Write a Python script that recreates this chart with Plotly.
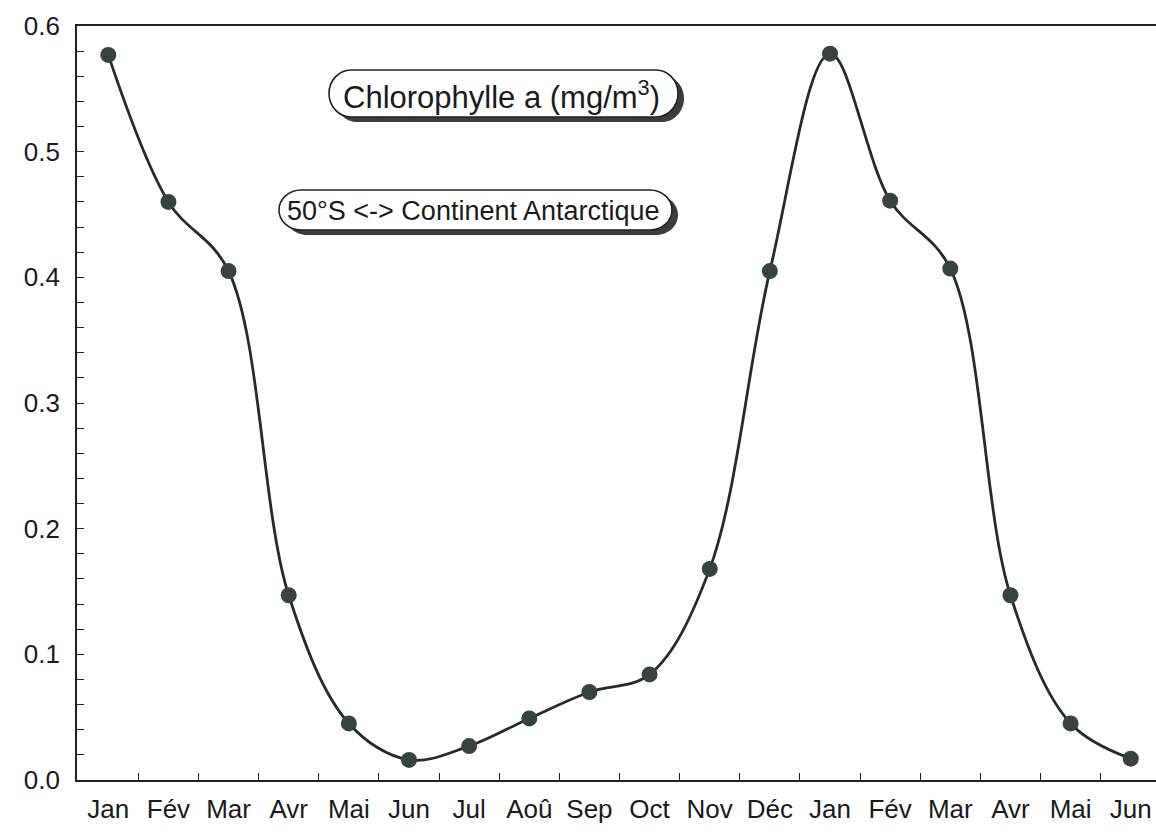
import plotly.graph_objects as go

# Monthly surface chlorophyll a, 50°S to the Antarctic continent (18 months)
months = ["Jan", "Fév", "Mar", "Avr", "Mai", "Jun", "Jul", "Aoû", "Sep",
          "Oct", "Nov", "Déc", "Jan", "Fév", "Mar", "Avr", "Mai", "Jun"]
chl = [0.577, 0.460, 0.405, 0.147, 0.045, 0.016, 0.027, 0.049, 0.070,
       0.084, 0.168, 0.405, 0.578, 0.461, 0.407, 0.147, 0.045, 0.017]
y_ticks = [0.0, 0.1, 0.2, 0.3, 0.4, 0.5, 0.6]
y_labels = ["0.0", "0.1", "0.2", "0.3", "0.4", "0.5", "0.6"]

W, H = 1156, 834
M_L, M_R, M_T, M_B = 77, 0, 26, 54
PW, PH = W - M_L - M_R, H - M_T - M_B

FONT = "Liberation Sans, Arial, Helvetica, sans-serif"
INK = "#1e2221"

x_idx = list(range(len(months)))

fig = go.Figure()
fig.add_trace(go.Scatter(
    x=x_idx, y=chl, mode="lines+markers",
    line=dict(color="#262a29", width=2.8, shape="spline", smoothing=1.0),
    marker=dict(size=16, color="#38433f"),
    hoverinfo="x+y", showlegend=False,
))


def px_x(p):
    return (p - M_L) / PW


def px_y(p):
    return (H - M_B - p) / PH


def pill_path(x0, y0, x1, y1, r):
    """Rounded box in paper units from pixel corners; ends bowed like brackets."""
    ax, bx = px_x(x0), px_x(x1)
    ty, by = px_y(y0), px_y(y1)
    rx = r / PW
    k = 0.55
    my = (ty + by) / 2
    return (
        f"M {ax + rx},{ty} L {bx - rx},{ty} "
        f"C {bx - rx + rx * k},{ty} {bx},{ty - (ty - my) * (1 - k)} {bx},{my} "
        f"C {bx},{by + (my - by) * (1 - k)} {bx - rx + rx * k},{by} {bx - rx},{by} "
        f"L {ax + rx},{by} "
        f"C {ax + rx - rx * k},{by} {ax},{by + (my - by) * (1 - k)} {ax},{my} "
        f"C {ax},{ty - (ty - my) * (1 - k)} {ax + rx - rx * k},{ty} {ax + rx},{ty} Z"
    )


labels = [
    dict(text="Chlorophylle a (mg/m<sup>3</sup>)", box=(329, 70, 678, 117), size=31),
    dict(text="50°S &lt;-&gt; Continent Antarctique", box=(279, 190, 672, 230), size=27),
]

shapes = []
annotations = []
for lab in labels:
    x0, y0, x1, y1 = lab["box"]
    # drop shadow
    shapes.append(dict(type="path", xref="paper", yref="paper",
                       path=pill_path(x0 + 6, y0 + 5, x1 + 6, y1 + 5, 22),
                       fillcolor="#3a3d3c", line=dict(width=0), layer="above"))
    # white box with dark outline
    shapes.append(dict(type="path", xref="paper", yref="paper",
                       path=pill_path(x0, y0, x1, y1, 22),
                       fillcolor="white", line=dict(color=INK, width=1.6), layer="above"))
    annotations.append(dict(
        xref="paper", yref="paper",
        x=px_x((x0 + x1) / 2 - 2), y=px_y((y0 + y1) / 2 + 1),
        text=lab["text"], showarrow=False,
        font=dict(family=FONT, size=lab["size"], color="#1a1a1a"),
        xanchor="center", yanchor="middle",
    ))

fig.update_layout(
    width=W, height=H,
    margin=dict(l=M_L, r=M_R, t=M_T, b=M_B),
    paper_bgcolor="white", plot_bgcolor="white",
    font=dict(family=FONT, color="#1a1a1a"),
    shapes=shapes, annotations=annotations,
    xaxis=dict(
        range=[-0.52, len(months) - 1 + 0.42],
        tickmode="array", tickvals=x_idx, ticktext=months,
        ticks="", showgrid=False, zeroline=False,
        showline=True, linecolor=INK, linewidth=1.6, mirror=True,
        tickfont=dict(family=FONT, size=26, color="#1a1a1a"),
        ticklabelstandoff=5,
        minor=dict(tickmode="array",
                   tickvals=[i + 0.5 for i in x_idx[:-1]],
                   ticks="inside", ticklen=7, tickwidth=1.3, tickcolor=INK,
                   showgrid=False),
        fixedrange=True,
    ),
    yaxis=dict(
        range=[0, 0.6],
        tickmode="array", tickvals=y_ticks, ticktext=y_labels,
        ticks="inside", ticklen=7, tickwidth=1.3, tickcolor=INK,
        showgrid=False, zeroline=False,
        showline=True, linecolor=INK, linewidth=1.6,
        tickfont=dict(family=FONT, size=26, color="#1a1a1a"),
        ticklabelstandoff=10,
        minor=dict(dtick=0.02, tick0=0, ticks="inside", ticklen=7,
                   tickwidth=1.1, tickcolor=INK, showgrid=False),
        fixedrange=True,
    ),
)

fig.write_html("out.html")
